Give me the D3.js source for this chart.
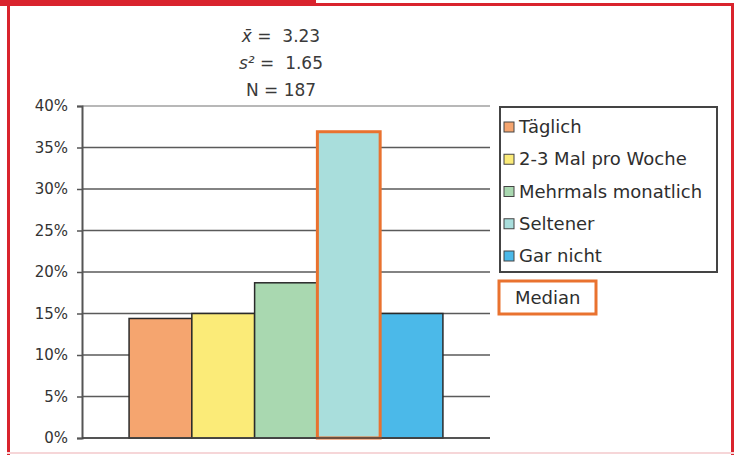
<!DOCTYPE html>
<html><head><meta charset="utf-8">
<script src="https://cdn.jsdelivr.net/npm/d3@7"></script>
<style>
html,body{margin:0;padding:0;background:#fff;}
svg{display:block;font-family:"DejaVu Sans",Verdana,sans-serif;}
</style></head>
<body>
<script>
const seriesNames = ["Täglich", "2-3 Mal pro Woche", "Mehrmals monatlich", "Seltener", "Gar nicht"];
const seriesValues = [0.144, 0.150, 0.187, 0.369, 0.150];
const seriesColors = ["#F5A56F", "#FBEB78", "#A9D8B0", "#A9DEDC", "#4BB9E9"];
const medianIndex = 3;
const yTicks = [0, 0.05, 0.10, 0.15, 0.20, 0.25, 0.30, 0.35, 0.40];
const statLines = [["x̄", " =  3.23"], ["s²", " =  1.65"], ["N", " = 187"]];
const legendExtra = "Median";

const W = 736, H = 455;
const FONT = "DejaVu Sans, Verdana, sans-serif";
const svg = d3.select("body").append("svg").attr("width", W).attr("height", H);

// red frame
svg.append("rect").attr("x", 0).attr("y", 0).attr("width", 316).attr("height", 6).attr("fill", "#D9232D");
svg.append("rect").attr("x", 316).attr("y", 3).attr("width", 418).attr("height", 3).attr("fill", "#D9232D");
svg.append("rect").attr("x", 7).attr("y", 0).attr("width", 3).attr("height", H).attr("fill", "#D9232D");
svg.append("rect").attr("x", 731).attr("y", 3).attr("width", 3).attr("height", H).attr("fill", "#D9232D");
svg.append("rect").attr("x", 7).attr("y", 452).attr("width", 727).attr("height", 2).attr("fill", "#F6D6D8");

const y = d3.scaleLinear().domain([0, 0.4]).range([438, 106]);
const x = d3.scaleBand().domain(seriesNames).range([82, 490]).paddingInner(0).paddingOuter(0.75);

// gridlines
svg.append("g").selectAll("line").data(yTicks).join("line")
  .attr("x1", 82).attr("x2", 490)
  .attr("y1", d => y(d)).attr("y2", d => y(d))
  .attr("stroke", d => d === 0.4 ? "#a0a0a0" : "#5a5a5a").attr("stroke-width", 1.5);

// y axis
const yAxis = d3.axisLeft(y).tickValues(yTicks).tickFormat(d3.format(".0%")).tickSize(5).tickPadding(9);
const ag = svg.append("g").attr("transform", "translate(82,0)").call(yAxis);
ag.select(".domain").attr("stroke", "#555").attr("stroke-width", 2);
ag.selectAll(".tick line").attr("stroke", "#555").attr("stroke-width", 1.5);
ag.selectAll(".tick text").attr("font-size", 15).attr("fill", "#333").attr("font-family", FONT);

// bars
const bars = svg.append("g").selectAll("rect").data(seriesNames).join("rect")
  .attr("x", d => x(d)).attr("width", x.bandwidth())
  .attr("y", (d, i) => y(seriesValues[i])).attr("height", (d, i) => y(0) - y(seriesValues[i]))
  .attr("fill", (d, i) => seriesColors[i])
  .attr("stroke", (d, i) => i === medianIndex ? "#E9722F" : "#2a2a2a")
  .attr("stroke-width", (d, i) => i === medianIndex ? 3 : 1.5);
bars.filter((d, i) => i === medianIndex).raise();

// x baseline
svg.append("line").attr("x1", 82).attr("x2", 490).attr("y1", y(0)).attr("y2", y(0)).attr("stroke", "#444").attr("stroke-width", 1.5);

// stats text
const statY = [42, 69, 96];
statLines.forEach((s, i) => {
  const t = svg.append("text").attr("x", 281).attr("y", statY[i]).attr("text-anchor", "middle")
    .attr("font-size", 17).attr("fill", "#3a3a3a").attr("font-family", FONT)
    .style("white-space", "pre");
  t.append("tspan").attr("font-style", i < 2 ? "italic" : "normal").text(s[0]);
  t.append("tspan").text(s[1]);
});

// legend
const lg = svg.append("g");
lg.append("rect").attr("x", 500).attr("y", 107).attr("width", 217).attr("height", 165)
  .attr("fill", "#fff").attr("stroke", "#444").attr("stroke-width", 2);
const ly = d3.scalePoint().domain(seriesNames).range([127, 256]);
seriesNames.forEach((n, i) => {
  lg.append("rect").attr("x", 504).attr("y", ly(n) - 5).attr("width", 10).attr("height", 10)
    .attr("fill", seriesColors[i]).attr("stroke", "#444").attr("stroke-width", 1);
  const t = lg.append("text").attr("x", 519).attr("y", ly(n) + 6).attr("font-size", 18)
    .attr("fill", "#2e2e2e").attr("font-family", FONT).text(n);
  const maxW = 714 - 519;
  if (t.node().getComputedTextLength() > maxW) t.attr("textLength", maxW).attr("lengthAdjust", "spacingAndGlyphs");
});
lg.append("rect").attr("x", 499).attr("y", 281).attr("width", 97).attr("height", 33)
  .attr("fill", "#fff").attr("stroke", "#E9722F").attr("stroke-width", 3);
lg.append("text").attr("x", 515).attr("y", 304).attr("font-size", 18).attr("fill", "#2e2e2e")
  .attr("font-family", FONT).text(legendExtra);
</script>
</body></html>
